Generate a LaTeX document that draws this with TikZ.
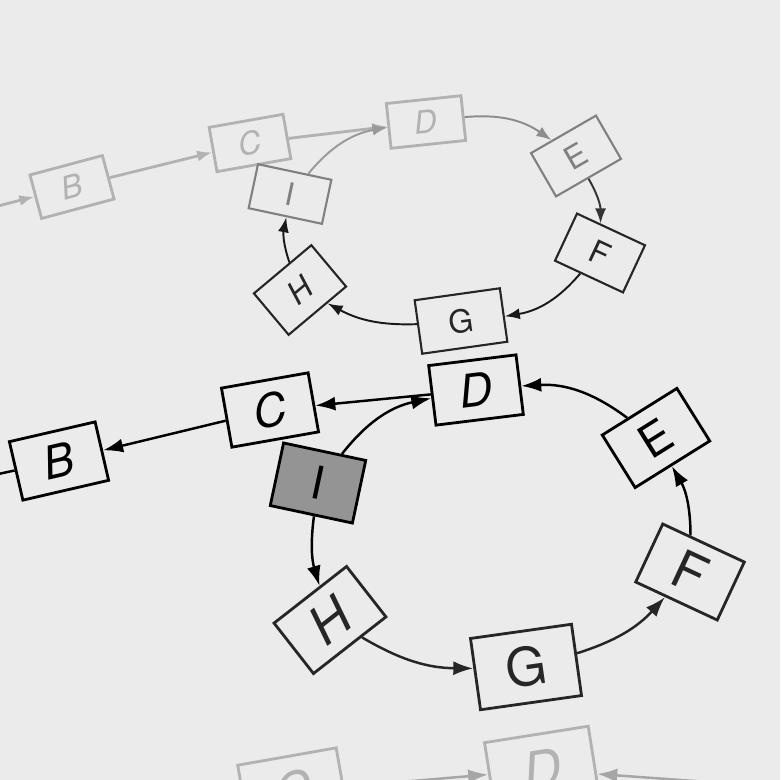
\documentclass[tikz,border=0pt]{standalone}
\usepackage{fontspec}
\setmainfont{TeX Gyre Heros}
\usetikzlibrary{arrows.meta}
\definecolor{paper}{gray}{0.92}
\tikzset{
  box/.style = {
    draw,
    rectangle,
    inner sep=0pt,
    fill=paper,
  },
  mainBox/.style = {
    box,
    line width=1.6pt,
    minimum width=1.76cm,
    minimum height=1.2cm,
    font=\fontsize{26}{26}\selectfont,
  },
  closeBox/.style = {
    mainBox,
    font=\fontsize{30}{30}\selectfont,
  },
  topBox/.style = {
    box,
    line width=1.2pt,
    minimum width=1.5cm,
    minimum height=0.9cm,
    font=\fontsize{18}{18}\selectfont,
  },
  link/.style = {
    -{Latex[length=4mm, width=2.8mm]},
    line width=1.4pt,
  },
  thinLink/.style = {
    -{Latex[length=3mm, width=2.2mm]},
    line width=1.1pt,
  },
}

\begin{document}
\begin{tikzpicture}[
  x=0.02cm,
  y=-0.02cm,
  far/.style = {draw=black!30, text=black!30, line width=1.6pt},
  mid/.style = {draw=black!50, text=black!50},
  near/.style = {draw=black!85, text=black!85},
  marked/.style = {fill=black!42},
]
\useasboundingbox (0,0) rectangle (780,780);
\clip (0,0) rectangle (780,780);
\fill[paper] (0,0) rectangle (780,780);

% upper ring, out of focus
\coordinate (TopA) at (-80,226);
\node(TopB)[topBox, far, rotate=15] at (72,187) {\textit{B}};
\node(TopC)[topBox, far, rotate=10] at (250,143) {\textit{C}};
\node(TopD)[topBox, far, rotate=6] at (426,122) {\textit{D}};
\node(TopE)[topBox, mid, rotate=30, minimum height=1cm] at (576,156) {E};
\node(TopF)[topBox, near, rotate=-25, minimum height=1.04cm] at (600,253) {F};
\node(TopG)[topBox, near, rotate=8, minimum width=1.72cm, minimum height=1.08cm] at (461,321) {G};
\node(TopH)[topBox, near, rotate=40, minimum height=1.08cm] at (300,290) {\textit{H}};
\node(TopI)[topBox, mid, rotate=-12] at (290,194) {I};

\draw[thinLink, black!30, line width=1.6pt] (TopA) edge (TopB);
\draw[thinLink, black!30, line width=1.6pt] (TopB) edge (TopC);
\draw[thinLink, black!30, line width=1.6pt] (TopC) edge (TopD);
\draw[thinLink, black!40] (TopI) edge[bend left=20] (TopD);
\draw[thinLink, black!45] (TopD) edge[bend left=20] (TopE);
\draw[thinLink, black!80] (TopE) edge[bend left=15] (TopF);
\draw[thinLink, black!90] (TopF) edge[bend left=20] (TopG);
\draw[thinLink, black!90] (TopG) edge[bend left=15] (TopH);
\draw[thinLink, black!90] (TopH) edge[bend left=15] (TopI);

% main ring
\coordinate (MainA) at (-100,495);
\node(MainB)[mainBox, rotate=13] at (59,461) {\textit{B}};
\node(MainC)[mainBox, rotate=10] at (270,410) {\textit{C}};
\node(MainD)[mainBox, rotate=7] at (476,390) {\textit{D}};
\node(MainE)[mainBox, rotate=32, minimum height=1.24cm] at (656,438) {E};
\node(MainF)[closeBox, near, rotate=-25, minimum width=1.8cm, minimum height=1.28cm] at (690,572) {F};
\node(MainG)[closeBox, near, rotate=8, minimum width=2.04cm, minimum height=1.44cm] at (526,667) {G};
\node(MainH)[closeBox, near, rotate=38, minimum width=1.84cm, minimum height=1.28cm] at (330,620) {\textit{H}};
\node(MainI)[mainBox, marked, rotate=-12, minimum width=1.68cm, minimum height=1.28cm] at (318,483) {I};

\draw[link] (MainD) edge (MainC);
\draw[link] (MainC) edge (MainB);
\draw[link] (MainB) edge (MainA);
\draw[link] (MainI) edge[bend left=20] (MainD);
\draw[link] (MainE) edge[bend right=20] (MainD);
\draw[link] (MainF) edge[bend right=15] (MainE);
\draw[link, black!85] (MainG) edge[bend right=15] (MainF);
\draw[link, black!85] (MainH) edge[bend right=15] (MainG);
\draw[link] (MainI) edge[bend right=12] (MainH);

% lower ring, cut by the page edge
\node(LowC)[closeBox, far, rotate=10, minimum width=2cm, minimum height=1.4cm] at (293,791) {\textit{C}};
\node(LowD)[closeBox, far, rotate=9, minimum width=2.1cm, minimum height=1.44cm] at (542,770) {\textit{D}};
\coordinate (LowE) at (820,790);

\draw[link, black!35] (LowC) edge (LowD);
\draw[link, black!35] (LowE) edge (LowD);

\end{tikzpicture}
\end{document}
